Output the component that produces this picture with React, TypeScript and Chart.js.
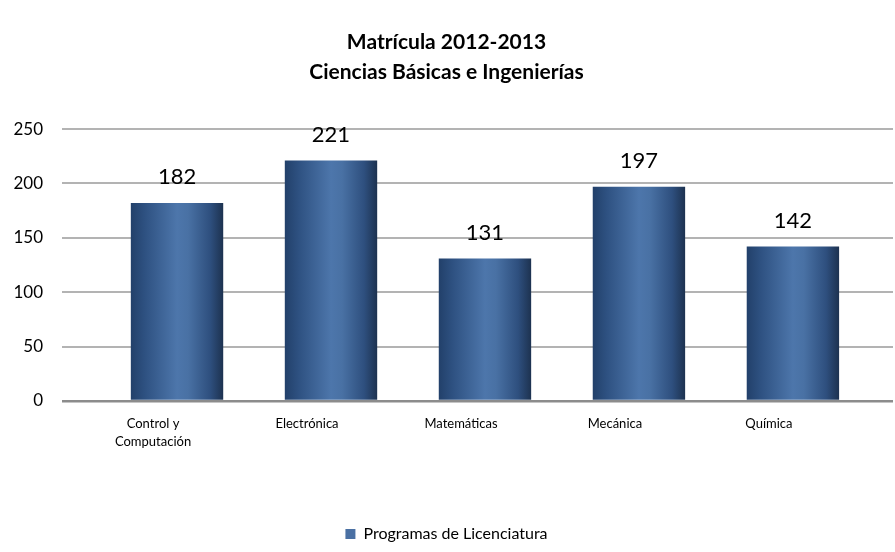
import React, { useEffect, useRef } from "react";
import { Chart, registerables } from "chart.js";

Chart.register(...registerables);

const titleLines = ["Matrícula 2012-2013", "Ciencias Básicas e Ingenierías"];
const categories: (string | string[])[] = [["Control y", "Computación"], "Electrónica", "Matemáticas", "Mecánica", "Química"];
const seriesLabel = "Programas de Licenciatura";
const values = [182, 221, 131, 197, 142];
const yTicks = [0, 50, 100, 150, 200, 250];

const FONT = "Lato, 'Open Sans', sans-serif";
const LEGEND_COLOR = "#4a70a3";

const valueLabelPlugin = {
  id: "valueLabels",
  afterDatasetsDraw(chart: any) {
    const ctx = chart.ctx;
    const meta = chart.getDatasetMeta(0);
    ctx.save();
    ctx.font = `22px ${FONT}`;
    ctx.fillStyle = "#000";
    ctx.textAlign = "center";
    ctx.textBaseline = "alphabetic";
    meta.data.forEach((el: any, i: number) => {
      ctx.fillText(String(values[i]), el.x, el.y - 19);
    });
    ctx.restore();
  },
};

export default function App() {
  const ref = useRef<HTMLCanvasElement | null>(null);
  useEffect(() => {
    if (!ref.current) return;
    Chart.defaults.color = "#000";
    Chart.defaults.font.family = FONT;
    const chart = new Chart(ref.current, {
      type: "bar",
      data: {
        datasets: [
          {
            label: seriesLabel,
            data: values.map((v, i) => ({ x: i, y: v })),
            barPercentage: 0.6,
            categoryPercentage: 1,
            borderWidth: 0,
            backgroundColor: (c: any) => {
              const ch = c.chart;
              const xs = ch.scales?.x;
              if (!xs || !ch.chartArea || c.dataIndex === undefined) return LEGEND_COLOR;
              const cx = xs.getPixelForValue(c.dataIndex);
              const half = xs.getPixelForValue(c.dataIndex + 0.3) - cx;
              if (!isFinite(cx) || !isFinite(half)) return LEGEND_COLOR;
              const g = ch.ctx.createLinearGradient(cx - half, 0, cx + half, 0);
              g.addColorStop(0, "#22406a");
              g.addColorStop(0.15, "#2e5181");
              g.addColorStop(0.5, "#4d76ab");
              g.addColorStop(0.62, "#4971a4");
              g.addColorStop(0.86, "#2e4f7e");
              g.addColorStop(1, "#1d3250");
              return g;
            },
          } as any,
        ],
      },
      options: {
        responsive: false,
        animation: false,
        layout: { padding: { left: 0, right: 2, top: 0, bottom: 0 } },
        scales: {
          x: {
            type: "linear",
            offset: false,
            min: -0.747,
            max: 4.65,
            grid: { display: false, drawTicks: false, offset: false },
            border: { display: false },
            afterBuildTicks: (scale: any) => {
              scale.ticks = categories.map((_, i) => ({ value: i }));
            },
            afterFit: (scale: any) => {
              scale.height = 121;
            },
            ticks: {
              autoSkip: false,
              maxRotation: 0,
              padding: 13,
              labelOffset: -24,
              font: { size: 13, family: FONT, lineHeight: 1.45 },
              color: "#000",
              callback: (v: any) => categories[v as number] as any,
            },
          },
          y: {
            min: 0,
            max: 250,
            afterBuildTicks: (scale: any) => {
              scale.ticks = yTicks.map((v) => ({ value: v }));
            },
            afterFit: (scale: any) => {
              scale.width = 62;
            },
            border: { display: false },
            grid: {
              drawTicks: false,
              color: (c: any) => (c.tick && c.tick.value === 0 ? "#8c8c8c" : "#b3b3b3"),
              lineWidth: (c: any) => (c.tick && c.tick.value === 0 ? 2.5 : 2),
            },
            ticks: {
              padding: 19,
              font: { size: 17, family: FONT },
              color: "#000",
            },
          },
        },
        plugins: {
          title: {
            display: true,
            text: titleLines,
            font: { size: 21, weight: "bold", family: FONT, lineHeight: 1.43 },
            color: "#000",
            padding: { top: 27, bottom: 42 },
          },
          legend: {
            display: true,
            position: "bottom",
            labels: {
              boxWidth: 10,
              boxHeight: 10,
              padding: 4,
              color: "#000",
              font: { size: 16, family: FONT },
              generateLabels: (chart: any) =>
                chart.data.datasets.map((d: any, i: number) => ({
                  text: d.label,
                  fillStyle: LEGEND_COLOR,
                  strokeStyle: LEGEND_COLOR,
                  lineWidth: 0,
                  hidden: false,
                  datasetIndex: i,
                  fontColor: "#000",
                })),
            },
          },
          tooltip: { enabled: false },
        },
      },
      plugins: [valueLabelPlugin],
    });
    return () => chart.destroy();
  }, []);
  return (
    <div style={{ position: "absolute", left: 0, top: 0, width: 895, height: 552, background: "#fff" }}>
      <canvas ref={ref} width={895} height={552} style={{ display: "block" }} />
    </div>
  );
}
